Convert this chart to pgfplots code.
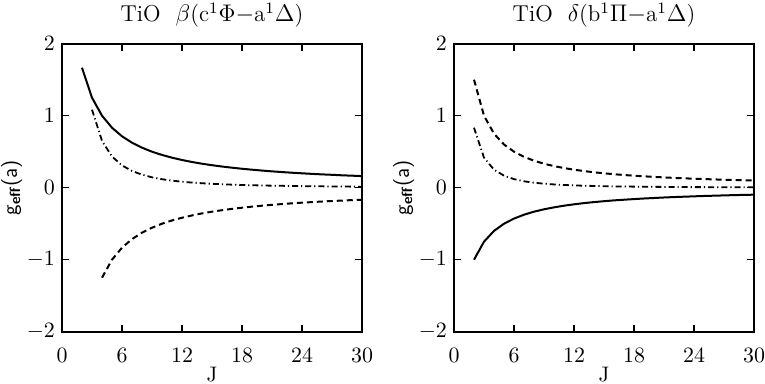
\documentclass[border=0pt]{standalone}
\usepackage{pgfplots}
\pgfplotsset{compat=1.18}

\pgfplotsset{
  tiostyle/.style={
    scale only axis,
    width=150pt, height=144pt,
    xmin=0, xmax=30, ymin=-2, ymax=2,
    xtick={0,6,12,18,24,30},
    ytick={-2,-1,0,1,2},
    tick align=inside,
    major tick length=3.5pt,
    minor tick num=0,
    axis line style={line width=1pt},
    every tick/.style={line width=0.8pt, black},
    tick label style={font=\fontsize{10.5}{12}\selectfont},
    x tick label style={anchor=center, yshift=-11.7pt},
    every axis title/.style={at={(0.5,1)}, anchor=base, yshift=10.9pt,
      font=\fontsize{11.5}{13}\selectfont},
    every axis x label/.style={at={(rel axis cs:0.5,0)}, anchor=center, yshift=-21.5pt,
      font=\fontsize{10.5}{12}\selectfont},
    every axis y label/.style={at={(rel axis cs:-0.168,0.5)}, anchor=center, rotate=90,
      font=\fontsize{10.5}{12}\selectfont\sffamily},
    xlabel={J},
    ylabel={g\textsubscript{\textbf{eff}}(a)},
    clip=false,
  },
  solidc/.style={black, line width=1pt},
  dashc/.style={black, line width=1pt, dash pattern=on 3pt off 2pt},
  dotdashc/.style={black, line width=0.9pt, dash pattern=on 3pt off 1.5pt on 0.6pt off 1.5pt},
}

\begin{document}
\begin{tikzpicture}
\path[use as bounding box] (0,0) rectangle (382.5pt,192pt);

% left panel: beta system
\begin{axis}[tiostyle, at={(31pt,26.15pt)}, anchor=south west,
  title={TiO\ \ $\beta$(c$^1\Phi$$-$a$^1\Delta$)}]
\addplot[solidc] coordinates {
  (2,1.667) (3,1.25) (4,1.0) (5,0.833) (6,0.714) (7,0.625) (8,0.556) (9,0.5)
  (10,0.455) (11,0.417) (12,0.385) (13,0.357) (14,0.333) (15,0.3125) (16,0.294)
  (17,0.278) (18,0.263) (19,0.25) (20,0.238) (21,0.227) (22,0.217) (23,0.208)
  (24,0.2) (25,0.192) (26,0.185) (27,0.179) (28,0.172) (29,0.167) (30,0.161)
};
\addplot[dashc] coordinates {
  (4,-1.25) (5,-1.0) (6,-0.833) (7,-0.714) (8,-0.625) (9,-0.556) (10,-0.5)
  (11,-0.455) (12,-0.417) (13,-0.385) (14,-0.357) (15,-0.333) (16,-0.3125)
  (17,-0.294) (18,-0.278) (19,-0.263) (20,-0.25) (21,-0.238) (22,-0.227)
  (23,-0.217) (24,-0.208) (25,-0.2) (26,-0.192) (27,-0.185) (28,-0.179)
  (29,-0.172) (30,-0.167)
};
\addplot[dotdashc] coordinates {
  (3,1.083) (4,0.65) (5,0.433) (6,0.31) (7,0.232) (8,0.181) (9,0.144)
  (10,0.118) (11,0.098) (12,0.083) (13,0.071) (14,0.062) (15,0.054) (16,0.048)
  (17,0.042) (18,0.038) (19,0.034) (20,0.031) (21,0.028) (22,0.026) (23,0.024)
  (24,0.022) (25,0.02) (26,0.019) (27,0.017) (28,0.016) (29,0.015) (30,0.014)
};
\end{axis}

% right panel: delta system
\begin{axis}[tiostyle, at={(227pt,26.15pt)}, anchor=south west,
  title={TiO\ \ $\delta$(b$^1\Pi$$-$a$^1\Delta$)}]
\addplot[solidc] coordinates {
  (2,-1.0) (3,-0.75) (4,-0.6) (5,-0.5) (6,-0.429) (7,-0.375) (8,-0.333) (9,-0.3)
  (10,-0.273) (11,-0.25) (12,-0.231) (13,-0.214) (14,-0.2) (15,-0.1875)
  (16,-0.176) (17,-0.167) (18,-0.158) (19,-0.15) (20,-0.143) (21,-0.136)
  (22,-0.130) (23,-0.125) (24,-0.12) (25,-0.115) (26,-0.111) (27,-0.107)
  (28,-0.103) (29,-0.1) (30,-0.097)
};
\addplot[dashc] coordinates {
  (2,1.5) (3,1.0) (4,0.75) (5,0.6) (6,0.5) (7,0.429) (8,0.375) (9,0.333)
  (10,0.3) (11,0.273) (12,0.25) (13,0.231) (14,0.214) (15,0.2) (16,0.1875)
  (17,0.176) (18,0.167) (19,0.158) (20,0.15) (21,0.143) (22,0.136) (23,0.130)
  (24,0.125) (25,0.12) (26,0.115) (27,0.111) (28,0.107) (29,0.103) (30,0.1)
};
\addplot[dotdashc] coordinates {
  (2,0.833) (3,0.417) (4,0.25) (5,0.167) (6,0.119) (7,0.089) (8,0.069) (9,0.056)
  (10,0.045) (11,0.038) (12,0.032) (13,0.027) (14,0.024) (15,0.021) (16,0.018)
  (17,0.016) (18,0.015) (19,0.013) (20,0.012) (21,0.011) (22,0.010) (23,0.009)
  (24,0.008) (25,0.008) (26,0.007) (27,0.007) (28,0.006) (29,0.006) (30,0.006)
};
\end{axis}
\end{tikzpicture}
\end{document}
